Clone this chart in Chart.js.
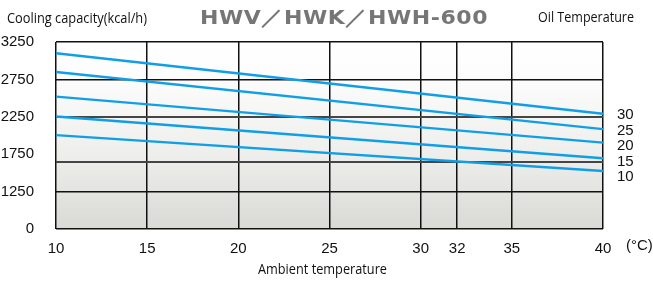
<!DOCTYPE html>
<html>
<head>
<meta charset="utf-8">
<script src="https://cdn.jsdelivr.net/npm/chart.js@4"></script>
<style>
  html, body { margin: 0; padding: 0; background: #fff; }
  #wrap { width: 653px; height: 282px; position: relative; }
</style>
</head>
<body>
<div id="wrap"><canvas id="chart" width="653" height="282"></canvas></div>
<script>
// ambient temperature (°C) at the ends of each line
const ambient = [10, 40];
const xTicks = [10, 15, 20, 25, 30, 32, 35, 40];

// oil temperature curves, cooling capacity (kcal/h)
const oilLabels = ['30', '25', '20', '15', '10'];
const oil30 = [3100, 2290];
const oil25 = [2850, 2085];
const oil20 = [2520, 1905];
const oil15 = [2255, 1695];
const oil10 = [2005, 1525];

// y axis is broken at the bottom: the lowest row is labelled 0
const yBase = 750;
const yTicks = [750, 1250, 1750, 2250, 2750, 3250];
const yGridLines = [750, 1250, 1650, 2250, 2750, 3250];

const narrow = '"Open Sans", "DejaVu Sans Condensed", sans-serif';
const arial = '"Liberation Sans", Arial, sans-serif';
const blue = '#109fe6';

const series = [oil30, oil25, oil20, oil15, oil10];

// draw text stretched/squeezed horizontally to a given width
function fitText(ctx, text, x, y, width) {
    const w = ctx.measureText(text).width;
    const k = width / w;
    ctx.save();
    ctx.translate(x, y);
    ctx.scale(k, 1);
    ctx.fillText(text, 0, 0);
    ctx.restore();
}

const decor = {
    id: 'decor',
    beforeDraw(chart) {
        const { ctx, chartArea: a } = chart;
        const g = ctx.createLinearGradient(0, a.top, 0, a.bottom);
        g.addColorStop(0, '#ffffff');
        g.addColorStop(0.2, '#fcfcfc');
        g.addColorStop(0.6, '#eeeeec');
        g.addColorStop(1, '#d9d9d5');
        ctx.save();
        ctx.fillStyle = g;
        ctx.fillRect(a.left, a.top, a.right - a.left, a.bottom - a.top);
        ctx.restore();
    },
    afterDraw(chart) {
        const { ctx } = chart;
        ctx.save();
        ctx.fillStyle = '#111';
        ctx.font = '14px ' + narrow;
        ctx.textBaseline = 'middle';
        ctx.textAlign = 'left';
        fitText(ctx, 'Cooling capacity(kcal/h)', 7, 19, 140);
        fitText(ctx, 'Oil Temperature', 538, 18, 96);
        fitText(ctx, 'Ambient temperature', 258, 270, 129);
        ctx.font = '15px ' + arial;
        ctx.fillText('(°C)', 626, 246);

        // title
        ctx.fillStyle = '#767676';
        ctx.font = 'bold 20px "DejaVu Sans", sans-serif';
        ctx.letterSpacing = '0.5px';
        fitText(ctx, 'HWV／HWK／HWH-600', 200, 19, 288);
        ctx.letterSpacing = '0px';

        // oil temperature labels at line ends
        ctx.fillStyle = '#111';
        ctx.font = '15px ' + arial;
        const first = chart.getDatasetMeta(0).data;
        const y0 = first[first.length - 1].y + 1;
        oilLabels.forEach((t, i) => {
            ctx.fillText(t, 617, y0 + i * 15.6);
        });
        ctx.restore();
    }
};

new Chart(document.getElementById('chart'), {
    type: 'line',
    data: {
        datasets: series.map((s, i) => ({
            label: oilLabels[i],
            data: ambient.map((x, j) => ({ x: x, y: s[j] })),
            borderColor: blue,
            borderWidth: 2.4,
            pointRadius: 0,
            tension: 0,
            fill: false
        }))
    },
    options: {
        responsive: false,
        animation: false,
        layout: { padding: { top: 42, right: 50, left: 0, bottom: 0 } },
        plugins: { legend: { display: false }, tooltip: { enabled: false } },
        scales: {
            x: {
                type: 'linear',
                min: 10,
                max: 40,
                afterBuildTicks: s => { s.ticks = xTicks.map(v => ({ value: v })); },
                afterFit: s => { s.height = 53; },
                border: { display: false },
                grid: {
                    color: '#111',
                    lineWidth: 1.5,
                    drawTicks: false
                },
                ticks: {
                    padding: 11,
                    color: '#111',
                    font: { family: arial, size: 15 }
                }
            },
            yGrid: {
                type: 'linear',
                position: 'left',
                min: yBase,
                max: 3250,
                afterBuildTicks: s => { s.ticks = yGridLines.map(v => ({ value: v })); },
                afterFit: s => { s.width = 0; },
                border: { display: false },
                grid: {
                    drawTicks: false,
                    color: c => (c.tick.value === 2250 || c.tick.value === 1650) ? '#454545' : '#111',
                    lineWidth: c => (c.tick.value === 2250 || c.tick.value === 1650) ? 2 : 1.5
                },
                ticks: { display: false }
            },
            y: {
                type: 'linear',
                position: 'left',
                min: yBase,
                max: 3250,
                afterBuildTicks: s => { s.ticks = yTicks.map(v => ({ value: v })); },
                afterFit: s => { s.width = 56; },
                border: { display: false },
                grid: { display: false },
                ticks: {
                    padding: 14,
                    color: '#111',
                    font: { family: arial, size: 15 },
                    callback: v => v === yBase ? '0' : String(v)
                }
            }
        }
    },
    plugins: [decor]
});
</script>
</body>
</html>
